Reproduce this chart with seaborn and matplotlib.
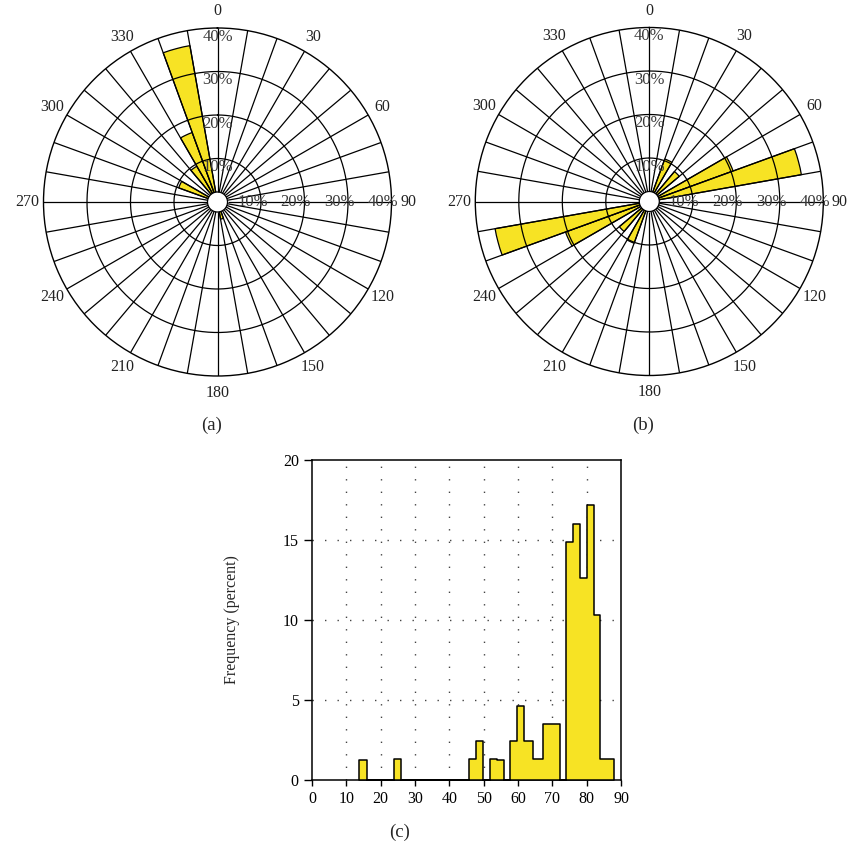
import numpy as np
import pandas as pd
import matplotlib
matplotlib.use("Agg")
import matplotlib.pyplot as plt
import seaborn as sns
from matplotlib.patches import Circle

# ---------------- data ----------------
# rose (a): start angle of each 10-degree sector (deg, clockwise from north) and percent
rose_a_dirs = [160, 290, 320, 330, 340]
rose_a_pct = [4.0, 9.5, 9.5, 17.0, 36.5]

# rose (b)
rose_b_dirs = [20, 40, 60, 70, 200, 220, 240, 250]
rose_b_pct = [10.4, 9.0, 20.5, 35.5, 10.2, 9.0, 20.5, 36.0]

ring_values = [10, 20, 30, 40]
ring_labels = ["10%", "20%", "30%", "40%"]
angle_ticks = [0, 30, 60, 90, 120, 150, 180, 210, 240, 270, 300, 330]

# histogram (c): bin edges and percent height per bin
hist_edges = [13.7, 15.9, 23.8, 25.9, 45.8, 47.7, 49.7, 51.8, 53.9, 55.9, 57.6, 59.6,
              61.8, 64.3, 67.4, 69.8, 72.1, 73.9, 75.9, 78.2, 80.1, 82.1, 84.0, 86.0, 88.0]
hist_heights = [1.27, 0.0, 1.33, 0.0, 1.33, 2.41, 0.0, 1.33, 1.27, 0.0, 2.41, 4.65,
                2.41, 1.33, 3.53, 3.53, 0.0, 14.87, 16.02, 12.6, 17.16, 10.33, 1.33, 1.33]
hist_xticks = [0, 10, 20, 30, 40, 50, 60, 70, 80, 90]
hist_yticks = [0, 5, 10, 15, 20]

YELLOW = "#F7E324"

sns.set_style("white")
plt.rcParams["font.family"] = ["Liberation Serif", "DejaVu Serif"]

fig = plt.figure(figsize=(8.48, 8.48), dpi=100)
W = 848.0


def rose(ax, dirs, pct):
    ax.set_theta_zero_location("N")
    ax.set_theta_direction(-1)
    df = pd.DataFrame({"theta": np.deg2rad(np.array(dirs, dtype=float) + 5.0),
                       "pct": pct})
    edges = [float(v) for v in np.deg2rad(np.arange(0, 361, 10))]
    sns.histplot(data=df, x="theta", weights="pct", bins=edges, element="bars",
                 fill=True, color=YELLOW, alpha=1, edgecolor="black",
                 linewidth=0.9, ax=ax, zorder=2)
    ax.set_ylim(0, 40)
    ax.grid(False)
    ax.set_xticks([])
    ax.set_yticks([])
    ax.set_xlabel("")
    ax.set_ylabel("")
    ax.spines["polar"].set_linewidth(1.0)
    ax.spines["polar"].set_color("black")
    hole = 2.3
    for a in range(0, 360, 10):
        ax.plot([np.deg2rad(a), np.deg2rad(a)], [hole, 40], color="black",
                lw=0.9, zorder=3, solid_capstyle="butt")
    th = np.linspace(0, 2 * np.pi, 400)
    for rv in ring_values[:-1]:
        ax.plot(th, np.full_like(th, rv), color="black", lw=0.9, zorder=3)
    ax.add_patch(Circle((0.5, 0.5), hole / 40 * 0.5, transform=ax.transAxes,
                        facecolor="white", edgecolor="black", lw=0.9, zorder=2.5))
    for rv, lab in zip(ring_values, ring_labels):
        ax.text(0, rv - 2.0, lab, ha="center", va="center", fontsize=12,
                color="#3a3a3a", zorder=4)
        ax.text(np.pi / 2, rv - 2.0, lab, ha="center", va="center", fontsize=12,
                color="#3a3a3a", zorder=4)
    for a in angle_ticks:
        ax.text(np.deg2rad(a), 43.8, str(a), ha="center", va="center",
                fontsize=11.5, color="#222222", clip_on=False)


R = 174.0
ax_a = fig.add_axes([(217.5 - R) / W, (W - 202 - R) / W, 2 * R / W, 2 * R / W],
                    projection="polar")
rose(ax_a, rose_a_dirs, rose_a_pct)
ax_b = fig.add_axes([(649.3 - R) / W, (W - 201.5 - R) / W, 2 * R / W, 2 * R / W],
                    projection="polar")
rose(ax_b, rose_b_dirs, rose_b_pct)

# ---------------- histogram ----------------
ax_c = fig.add_axes([312 / W, (W - 780) / W, 309 / W, 320 / W])
e = np.array(hist_edges)
centers = (e[:-1] + e[1:]) / 2
hdf = pd.DataFrame({"dip": centers, "pct": hist_heights})
hdf = hdf[hdf["pct"] > 0]
sns.histplot(data=hdf, x="dip", weights="pct", bins=hist_edges, element="step",
             fill=True, color=YELLOW, alpha=1, edgecolor="black", linewidth=1.1,
             ax=ax_c, zorder=3)
ax_c.set_xlim(0, 90)
ax_c.set_ylim(0, 20)
ax_c.set_xticks(hist_xticks)
ax_c.set_yticks(hist_yticks)
ax_c.tick_params(axis="x", direction="out", length=4, width=1, labelsize=11.5,
                 colors="black", pad=4)
ax_c.tick_params(axis="y", direction="out", length=5.5, width=1, labelsize=11.5,
                 colors="black", pad=4)
ax_c.xaxis.set_ticks_position("bottom")
ax_c.yaxis.set_ticks_position("left")
for s in ax_c.spines.values():
    s.set_visible(True)
    s.set_color("black")
    s.set_linewidth(1.1)
for xv in hist_xticks[1:-1]:
    ax_c.axvline(xv, color="#444444", lw=1.0, ls=(0, (1, 8)), zorder=1)
for yv in hist_yticks[1:-1]:
    ax_c.axhline(yv, color="#444444", lw=1.0, ls=(0, (1, 8)), zorder=1)
ax_c.set_xlabel("")
ax_c.set_ylabel("Frequency (percent)", fontsize=11.5)
ax_c.yaxis.set_label_coords((240 - 312) / 309, 0.5)

fig.text(212 / W, 1 - 425 / W, "(a)", ha="center", va="center", fontsize=13.5)
fig.text(643 / W, 1 - 425 / W, "(b)", ha="center", va="center", fontsize=13.5)
fig.text(400 / W, 1 - 832 / W, "(c)", ha="center", va="center", fontsize=13.5)

fig.savefig("out.png", dpi=100)
